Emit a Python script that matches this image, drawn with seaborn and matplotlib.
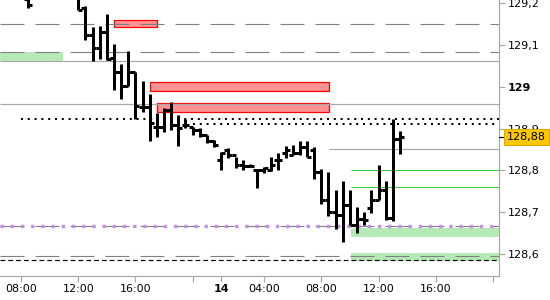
import matplotlib
matplotlib.use("Agg")
import matplotlib.pyplot as plt
import matplotlib.transforms as mtransforms
from matplotlib.patches import Rectangle
import seaborn as sns

# ---------------- data ----------------
slots = [1, 8, 9, 10, 11, 12, 13, 14, 15, 16, 17, 18, 19, 20, 21, 22, 23, 24, 25, 26,
         27, 28, 29, 30, 31, 32, 33, 34, 35, 36, 37, 38, 39, 40, 41, 42, 43, 44, 45,
         46, 47, 48, 49, 50, 51, 52, 53]
opens = [129.210, 129.215, 129.188, 129.124, 129.093, 129.131, 129.069, 129.035, 129.002,
         129.035, 128.952, 128.952, 128.904, 128.904, 128.944, 128.909, 128.909, 128.904,
         128.897, 128.885, 128.871, 128.825, 128.849, 128.837, 128.813, 128.811, 128.801,
         128.801, 128.801, 128.825, 128.842, 128.837, 128.842, 128.856, 128.849, 128.796,
         128.729, 128.700, 128.693, 128.717, 128.669, 128.683, 128.710, 128.729, 128.753,
         128.686, 128.875]
highs = [129.230, 129.230, 129.193, 129.143, 129.145, 129.174, 129.102, 129.055, 129.086,
         129.035, 129.014, 128.983, 128.937, 128.949, 128.964, 128.933, 128.923, 128.904,
         128.901, 128.885, 128.873, 128.844, 128.854, 128.832, 128.825, 128.815, 128.803,
         128.808, 128.832, 128.842, 128.858, 128.861, 128.870, 128.870, 128.856, 128.803,
         128.796, 128.753, 128.775, 128.753, 128.712, 128.700, 128.753, 128.813, 128.775,
         128.923, 128.894]
lows = [129.189, 129.184, 129.112, 129.062, 129.067, 129.064, 128.992, 128.971, 129.002,
        128.923, 128.940, 128.870, 128.880, 128.892, 128.897, 128.858, 128.901, 128.885,
        128.880, 128.866, 128.856, 128.801, 128.830, 128.806, 128.801, 128.808, 128.758,
        128.794, 128.799, 128.801, 128.830, 128.837, 128.837, 128.832, 128.779, 128.720,
        128.691, 128.660, 128.629, 128.669, 128.650, 128.669, 128.698, 128.729, 128.681,
        128.679, 128.839]
closes = [129.195, 129.184, 129.124, 129.093, 129.131, 129.067, 129.035, 129.002, 129.035,
          128.954, 128.952, 128.913, 128.904, 128.944, 128.909, 128.901, 128.909, 128.897,
          128.885, 128.871, 128.861, 128.842, 128.837, 128.813, 128.811, 128.811, 128.801,
          128.806, 128.813, 128.825, 128.849, 128.842, 128.856, 128.832, 128.796, 128.729,
          128.700, 128.693, 128.717, 128.669, 128.683, 128.681, 128.729, 128.753, 128.686,
          128.875, 128.880]

tick_slots = [0, 8, 16, 24, 28, 34, 42, 50, 58, 66]
tick_labels = ["08:00", "12:00", "16:00", "", "14", "04:00", "08:00", "12:00", "16:00", ""]
ytick_vals = [128.6, 128.7, 128.8, 128.9, 129.0, 129.1, 129.2]
ytick_labels = ["128,6", "128,7", "128,8", "128,9", "129", "129,1", "129,2"]
last_price = 128.88
last_label = "128,88"

# zones: (x0, x1, y0, y1)
red_zones = [(13.0, 19.0, 129.143, 129.160), (18.0, 43.1, 128.990, 129.011),
             (19.0, 43.1, 128.940, 128.961)]
green_zones = [(-2.94, 5.87, 129.061, 129.083), (46.15, 66.85, 128.640, 128.663),
               (46.15, 66.85, 128.582, 128.603)]
gray_dashed_levels = [129.150, 129.083, 128.667, 128.595]
gray_solid_levels = [(-2.94, 129.061), (-2.94, 128.958), (43.1, 128.851)]
green_levels = [(46.15, 128.801), (46.15, 128.760)]
black_dotted_levels = [(0.0, 128.922), (24.0, 128.912)]
purple_level = 128.667
black_dashed_level = 128.586

XMIN, XMAX = -2.94, 66.85
YMIN, YMAX = 128.547, 129.2077

# ---------------- style ----------------
sns.set_theme(style="white")
plt.rcParams["font.family"] = ["DejaVu Sans"]

fig = plt.figure(figsize=(5.5, 3.0), dpi=100)
ax = fig.add_axes([0.0, 0.08, 499 / 550, 0.92])
ax.set_xlim(XMIN, XMAX)
ax.set_ylim(YMIN, YMAX)

px = 72 / 100  # points per pixel

# zones
for x0, x1, y0, y1 in green_zones:
    ax.add_patch(Rectangle((x0, y0), x1 - x0, y1 - y0, facecolor="#b5e9b5",
                           edgecolor="none", zorder=1))
for x0, x1, y0, y1 in red_zones:
    ax.add_patch(Rectangle((x0, y0), x1 - x0, y1 - y0, facecolor="#ff9292",
                           edgecolor="#ff0000", linewidth=1.2 * px, zorder=1.2))

# levels
for lv in gray_dashed_levels:
    ax.axhline(lv, color="#808080", lw=1.1 * px, linestyle=(0, (24 / 1.1, 11 / 1.1)), zorder=1.5)
for x0, lv in gray_solid_levels:
    ax.hlines(lv, x0, XMAX, color="#a8a8a8", lw=1.2 * px, zorder=1.6)
for x0, lv in green_levels:
    ax.hlines(lv, x0, XMAX, color="#3ccc3c", lw=1.1 * px, zorder=1.6)
for x0, lv in black_dotted_levels:
    ax.hlines(lv, x0, XMAX, color="black", lw=2 * px, linestyles=[(0, (1, 2.4))], zorder=1.7)
ax.axhline(purple_level, color="#c690e2", lw=3.4 * px, linestyle=(0, (1, 2.0)), zorder=1.8)
ax.axhline(black_dashed_level, color="black", lw=1.2 * px, linestyle=(0, (4, 2.5)), zorder=1.8)

# OHLC bars
bw = 3 * px
ax.vlines(slots, lows, highs, color="black", lw=bw, zorder=3)
ax.hlines(opens, [s - 0.55 for s in slots], slots, color="black", lw=bw, zorder=3)
ax.hlines(closes, slots, [s + 0.55 for s in slots], color="black", lw=bw, zorder=3)

# axes styling
for side in ["left", "top"]:
    ax.spines[side].set_visible(False)
for side in ["right", "bottom"]:
    ax.spines[side].set_color("#a8a8a8")
    ax.spines[side].set_linewidth(1.2 * px)

ax.yaxis.tick_right()
ax.set_yticks(ytick_vals)
ax.set_yticklabels(ytick_labels)
ax.set_xticks(tick_slots)
ax.set_xticklabels(tick_labels)
ax.tick_params(axis="both", colors="#a8a8a8", labelcolor="black", labelsize=8,
               length=4, width=1.2 * px, direction="out")
ax.tick_params(axis="y", pad=2, right=True, left=False)
ax.tick_params(axis="x", pad=2, bottom=True)
for lbl in ax.get_yticklabels():
    if lbl.get_text() == "129":
        lbl.set_fontweight("bold")
for lbl in ax.get_xticklabels():
    if lbl.get_text() == "14":
        lbl.set_fontweight("bold")
ax.grid(False)

# last price marker
trans = mtransforms.blended_transform_factory(ax.transAxes, ax.transData)
ax.plot([1.0, 1.012], [last_price, last_price], transform=trans, color="black",
        lw=1.2 * px, clip_on=False, zorder=9)
ax.text(1.016, last_price, last_label, transform=trans, ha="left", va="center",
        fontsize=8, color="black", zorder=10, clip_on=False,
        bbox=dict(boxstyle="square,pad=0.25", facecolor="#fcc800", edgecolor="#e0a800",
                  linewidth=0.8))

fig.savefig("out.png", dpi=100)
